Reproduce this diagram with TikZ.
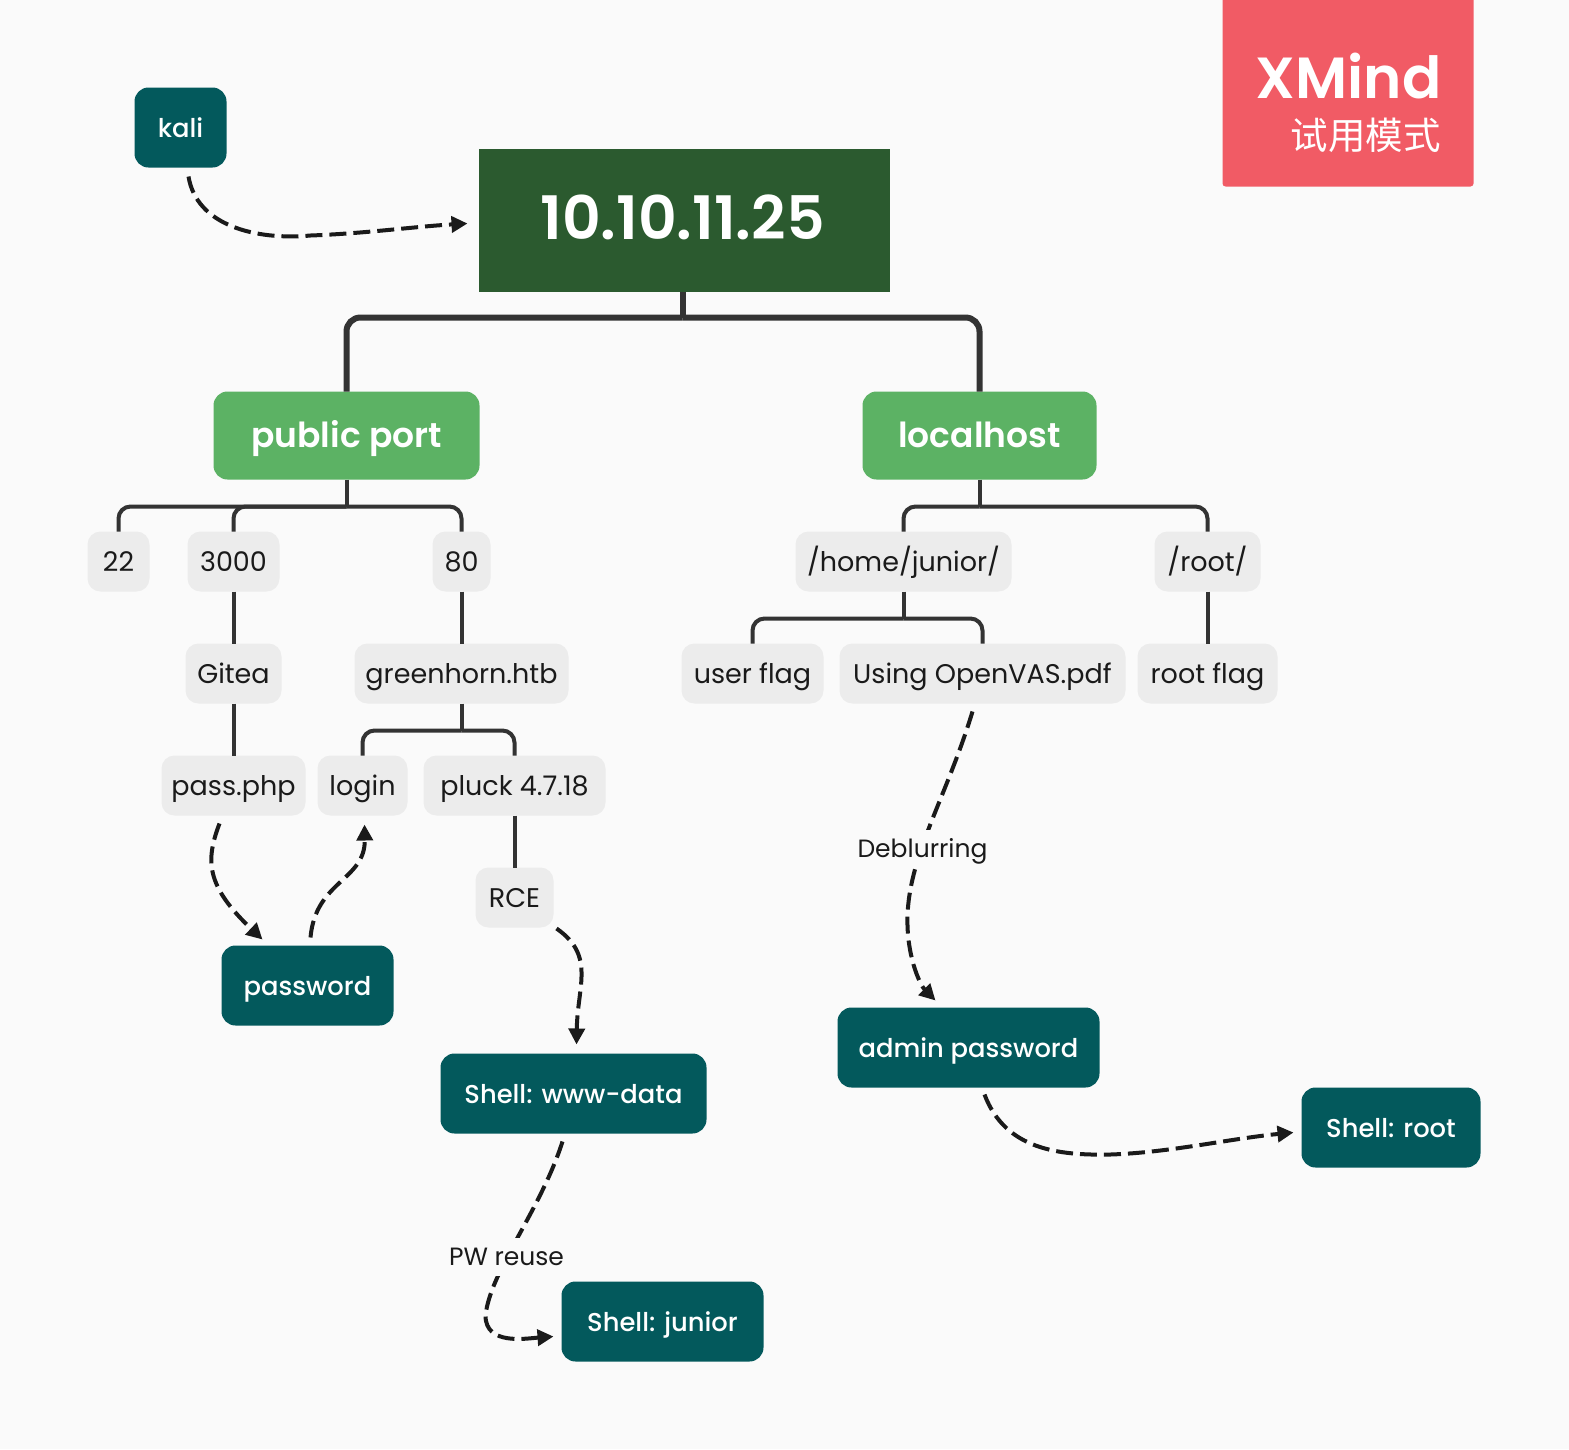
\documentclass[tikz,border=0pt]{standalone}
\usepackage{fontspec}
\setmainfont{Poppins}
\newfontfamily\medf{Poppins Medium}
\newfontfamily\semif{Poppins SemiBold}
\newfontfamily\cjkfont{Noto Sans CJK SC}
\usetikzlibrary{arrows.meta,calc}
\definecolor{bgc}{HTML}{FAFAFA}
\definecolor{rootc}{HTML}{2B5A2F}
\definecolor{greenc}{HTML}{5CB264}
\definecolor{tealc}{HTML}{03595C}
\definecolor{grayc}{HTML}{ECECEC}
\definecolor{linec}{HTML}{333333}
\definecolor{inkc}{HTML}{1A1A1A}
\definecolor{redc}{HTML}{F15B65}
\tikzset{
  x=1pt,y=-1pt,
  boxbase/.style={inner sep=0pt,outer sep=0pt,align=center},
  rootbox/.style={boxbase,fill=rootc,text=white,text height=42pt,text depth=4pt,font=\semif\fontsize{60}{68}\selectfont},
  subbox/.style={boxbase,fill=greenc,text=white,rounded corners=14pt,minimum height=88pt,text height=29pt,text depth=5pt,font=\semif\fontsize{34.5}{40}\selectfont},
  leafbox/.style={boxbase,fill=grayc,text=inkc,rounded corners=13pt,minimum height=60pt,text height=23pt,text depth=3pt,font=\fontsize{27}{32}\selectfont},
  floatbox/.style={boxbase,fill=tealc,text=white,rounded corners=14pt,minimum height=80pt,text height=23pt,text depth=3pt,font=\medf\fontsize{25.8}{32}\selectfont},
  thickedge/.style={draw=linec,line width=6pt,rounded corners=14pt},
  midedge/.style={draw=linec,line width=4pt,rounded corners=12pt},
  dashedge/.style={draw=inkc,line width=4pt,dash pattern=on 17pt off 7pt,-{Triangle[length=16pt,width=16pt]}},
  edgelabel/.style={fill=bgc,inner sep=0pt,text=inkc,minimum height=38pt,text height=21pt,text depth=3pt,font=\fontsize{25}{30}\selectfont},
}
\newcommand{\boxat}[5]{\node[#1,minimum width=#3 pt] (#2) at (#4,#5)}
\begin{document}
\begin{tikzpicture}
\useasboundingbox (-0.5,-0.5) rectangle (1568.5,1448.5);
\fill[bgc] (-0.5,-0.5) rectangle (1568.5,1448.5);
% trial badge
\node[boxbase,fill=redc,rounded corners=3pt,minimum width=251pt,minimum height=196pt] (badge) at (1347.5,88) {};
\node[boxbase,anchor=east,text=white,font=\semif\fontsize{58}{66}\selectfont] (badgea) at (1441,76) {XMind};
\node[boxbase,anchor=east,text=white,font=\cjkfont\fontsize{37.5}{42}\selectfont] (badgeb) at (1440,135) {试用模式};
% nodes
\node[rootbox,minimum width=411pt,minimum height=143pt] (root) at (683.5,219.5) {\hspace*{-3pt}10.10.11.25};
\boxat{subbox}{pub}{266}{346}{435} {public port};
\boxat{subbox}{loc}{234}{979}{435} {localhost};
\boxat{leafbox}{n22}{62}{118}{561} {22};
\boxat{leafbox}{n3000}{92}{233}{561} {3000};
\boxat{leafbox}{n80}{58}{461}{561} {80};
\boxat{leafbox}{home}{216}{903}{561} {/home/junior/};
\boxat{leafbox}{rootdir}{106}{1207}{561} {/root/};
\boxat{leafbox}{gitea}{96}{233}{673} {Gitea};
\boxat{leafbox}{green}{214}{461}{673} {greenhorn.htb};
\boxat{leafbox}{uflag}{142}{752}{673} {user flag};
\boxat{leafbox}{vas}{286}{982}{673} {Using OpenVAS.pdf};
\boxat{leafbox}{rflag}{140}{1207}{673} {root flag};
\boxat{leafbox}{pass}{144}{233}{785} {pass.php};
\boxat{leafbox}{login}{90}{362}{785} {login};
\boxat{leafbox}{pluck}{182}{514}{785} {pluck 4.7.18};
\boxat{leafbox}{rce}{78}{514}{897} {RCE};
\boxat{floatbox}{kali}{92}{180}{127} {kali};
\boxat{floatbox}{pw}{172}{307}{985} {password};
\boxat{floatbox}{www}{266}{573}{1093} {Shell: www-data};
\boxat{floatbox}{admin}{262}{968}{1047} {admin password};
\boxat{floatbox}{sroot}{179}{1390.5}{1127} {Shell: root};
\boxat{floatbox}{junior}{202}{662}{1321} {Shell: junior};
% junction points
\coordinate (jroot) at ($(root.south)+(-1.5,26)$);
\coordinate (jpub) at ($(pub.south)+(0,27)$);
\coordinate (jloc) at ($(loc.south)+(0,27)$);
\coordinate (jgreen) at ($(green.south)+(0,27)$);
\coordinate (jhome) at ($(home.south)+(0,27)$);
% tree connectors
\draw[thickedge] (root.south -| jroot) -- (jroot);
\draw[thickedge] (jroot) -| (pub.north);
\draw[thickedge] (jroot) -| (loc.north);
\draw[midedge] (pub.south) -- (jpub);
\draw[midedge] (jpub) -| (n22.north);
\draw[midedge] (jpub) -| (n3000.north);
\draw[midedge] (jpub) -| (n80.north);
\draw[midedge] (loc.south) -- (jloc);
\draw[midedge] (jloc) -| (home.north);
\draw[midedge] (jloc) -| (rootdir.north);
\draw[midedge] (n3000.south) -- (gitea.north);
\draw[midedge] (gitea.south) -- (pass.north);
\draw[midedge] (n80.south) -- (green.north);
\draw[midedge] (green.south) -- (jgreen);
\draw[midedge] (jgreen) -| (login.north);
\draw[midedge] (jgreen) -| (pluck.north);
\draw[midedge] (pluck.south) -- (rce.north);
\draw[midedge] (home.south) -- (jhome);
\draw[midedge] (jhome) -| (uflag.north);
\draw[midedge] (jhome) -| (vas.north);
\draw[midedge] (rootdir.south) -- (rflag.north);
% free ends of the relationship curves
\coordinate (kaliout) at (188,176);
\coordinate (rootin) at (467,223);
\coordinate (passout) at (219,823);
\coordinate (pwin) at (262,939);
\coordinate (pwout) at (310,937);
\coordinate (loginin) at (364,824);
\coordinate (rceout) at (556,928);
\coordinate (wwwin) at (576,1044);
\coordinate (wwwout) at (562,1141);
\coordinate (juniorin) at (553,1336);
\coordinate (vasout) at (972,711);
\coordinate (adminin) at (935,1000);
\coordinate (adminout) at (984,1094);
\coordinate (srootin) at (1293,1132);
% relationship curves
\draw[dashedge] (kaliout) .. controls (196,225) and (255,240) .. (310,235) .. controls (365,233) and (415,226) .. (rootin);
\draw[dashedge] (passout) .. controls (205,860) and (205,885) .. (pwin);
\draw[dashedge] (pwout) .. controls (315,880) and (365,880) .. (loginin);
\draw[dashedge] (rceout) .. controls (595,955) and (577,985) .. (wwwin);
\draw[dashedge] (wwwout) .. controls (540,1210) and (490,1270) .. (485,1315) .. controls (485,1345) and (525,1338) .. (juniorin);
\draw[dashedge] (vasout) .. controls (945,800) and (905,860) .. (907,925) .. controls (908,960) and (920,985) .. (adminin);
\draw[dashedge] (adminout) .. controls (1005,1150) and (1060,1155) .. (1110,1154) .. controls (1170,1152) and (1230,1138) .. (srootin);
\node[edgelabel] (lbldeb) at (922,848) {Deblurring};
\node[edgelabel] (lblpw) at (506,1256) {PW reuse};
\end{tikzpicture}
\end{document}
